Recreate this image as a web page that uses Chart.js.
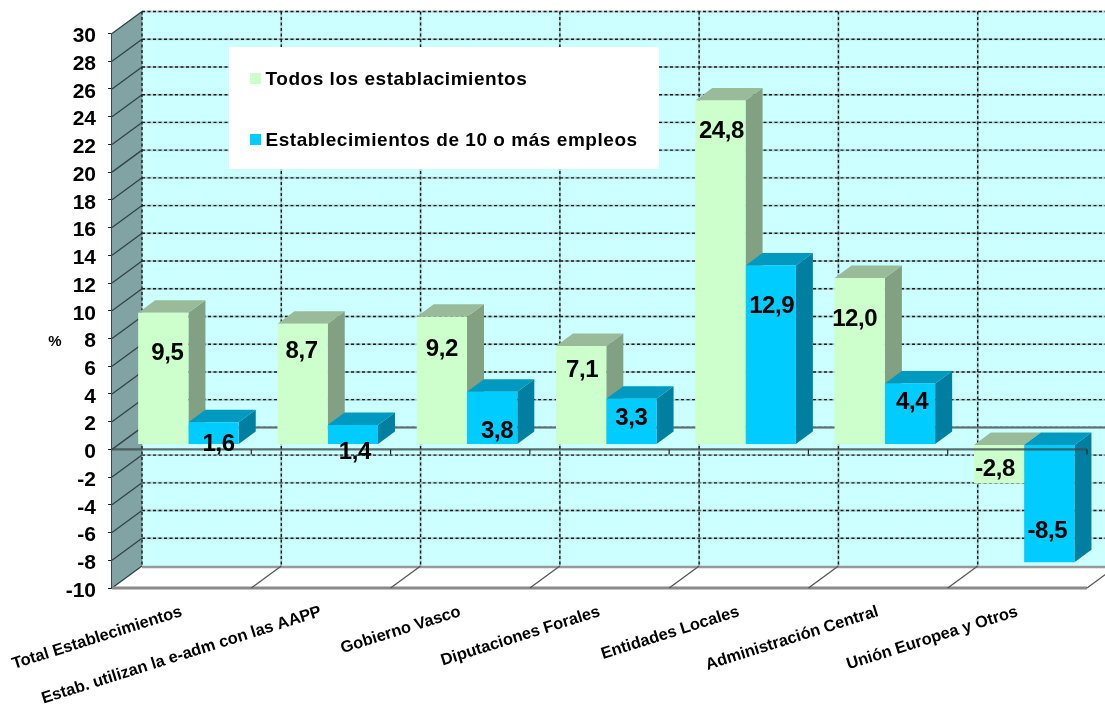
<!DOCTYPE html>
<html>
<head>
<meta charset="utf-8">
<script src="https://cdn.jsdelivr.net/npm/chart.js@4"></script>
<style>
  html, body { margin: 0; padding: 0; background: #fff; }
  canvas { display: block; }
</style>
</head>
<body>
<canvas id="chart" width="1105" height="708"></canvas>
<script>
const categories = [
  "Total Establecimientos",
  "Estab. utilizan la e-adm con las AAPP",
  "Gobierno Vasco",
  "Diputaciones Forales",
  "Entidades Locales",
  "Administración Central",
  "Unión Europea y Otros"
];
const seriesNames = ["Todos los establacimientos", "Establecimientos de 10 o más empleos"];
const todos = [9.5, 8.7, 9.2, 7.1, 24.8, 12.0, -2.8];
const diezOMas = [1.6, 1.4, 3.8, 3.3, 12.9, 4.4, -8.5];
const yMin = -10;
const yMax = 30;
const yStep = 2;

const FONT = '"Liberation Sans", Arial, sans-serif';
const DEPTH = { x: 30, y: 22 };       // front plane to back wall
const BAR_SHIFT = { x: 6.8, y: 5 };   // bars stand a bit inside the floor
const BAR_DEPTH = { x: 17, y: 12.5 };
const SKINS = [
  { front: "#CCFFCC", top: "#99BB99", side: "#82A082" },
  { front: "#00CCFF", top: "#0099BF", side: "#007FA0" }
];
// hand placed value labels, relative to the bar centre / value end
const LABEL_NUDGE = [
  [[4, 40.5], [-1, 27.5], [0, 32.5], [1, 24.5], [1, 30.5], [-5, 41.5], [-4, -13.5]],
  [[5, 22.5], [2, 27.5], [5, 39.5], [0, 19.5], [1, 40.5], [2, 18.5], [-2, -30.5]]
];

function poly(ctx, pts, fill) {
  ctx.beginPath();
  pts.forEach((p, i) => i ? ctx.lineTo(p[0], p[1]) : ctx.moveTo(p[0], p[1]));
  ctx.closePath();
  ctx.fillStyle = fill;
  ctx.fill();
}

function line(ctx, x1, y1, x2, y2, color, width, dash) {
  ctx.beginPath();
  ctx.setLineDash(dash || []);
  ctx.moveTo(x1, y1);
  ctx.lineTo(x2, y2);
  ctx.strokeStyle = color;
  ctx.lineWidth = width;
  ctx.stroke();
  ctx.setLineDash([]);
}

function dashed(ctx, x1, y1, x2, y2) {
  line(ctx, x1, y1, x2, y2, "rgba(110,130,130,0.35)", 2);
  line(ctx, x1, y1, x2, y2, "#1c1c1c", 1.4, [3, 2.5]);
}

// walls, floor and grid sit under the bars
const walls = {
  id: "walls",
  beforeDatasetsDraw(chart) {
    const { ctx, chartArea: a, scales } = chart;
    const W = chart.width;
    const y = scales.y;
    const backL = a.left + DEPTH.x;
    const backT = a.top - DEPTH.y;
    const backB = a.bottom - DEPTH.y;
    const catW = (a.right - a.left) / categories.length;

    ctx.save();
    poly(ctx, [[backL, backT], [W, backT], [W, backB], [backL, backB]], "#CCFFFF");
    poly(ctx, [[a.left, a.top], [backL, backT], [backL, backB], [a.left, a.bottom]], "#82A3A3");

    y.ticks.forEach(t => {
      const py = y.getPixelForValue(t.value);
      if (t.value !== yMin) dashed(ctx, backL, py - DEPTH.y, W, py - DEPTH.y);
      line(ctx, a.left, py, backL, py - DEPTH.y, "#2f4444", 1.3);
    });
    for (let i = 0; i <= categories.length; i++) {
      const px = a.left + i * catW;
      if (px + DEPTH.x < W) dashed(ctx, px + DEPTH.x, backT, px + DEPTH.x, backB);
    }

    // back zero line
    const zero = y.getPixelForValue(0);
    line(ctx, backL, zero - DEPTH.y, W, zero - DEPTH.y, "#5f6f6f", 2);

    // floor
    line(ctx, backL, backB + 1, W, backB + 1, "#999", 2.5);
    line(ctx, a.left, a.bottom, a.right, a.bottom, "#8a8a8a", 3);
    for (let i = 1; i <= categories.length; i++) {
      const px = a.left + i * catW;
      line(ctx, px, a.bottom, px + DEPTH.x, backB, "#555", 1.3);
    }
    ctx.restore();

    // bar tops and sides, the fronts come from the library after this
    [0, 1].forEach(d => {
      const skin = SKINS[d];
      chart.getDatasetMeta(d).data.forEach(el => {
        const l = el.x - el.width / 2 + BAR_SHIFT.x;
        const r = el.x + el.width / 2 + BAR_SHIFT.x;
        const top = Math.min(el.y, el.base) - BAR_SHIFT.y;
        const bot = Math.max(el.y, el.base) - BAR_SHIFT.y;
        poly(ctx, [[r, top], [r + BAR_DEPTH.x, top - BAR_DEPTH.y], [r + BAR_DEPTH.x, bot - BAR_DEPTH.y], [r, bot]], skin.side);
        poly(ctx, [[l, top], [l + BAR_DEPTH.x, top - BAR_DEPTH.y], [r + BAR_DEPTH.x, top - BAR_DEPTH.y], [r, top]], skin.top);
      });
    });

    ctx.save();
    ctx.translate(BAR_SHIFT.x, -BAR_SHIFT.y);
  },
  afterDatasetsDraw(chart) {
    const { ctx, chartArea: a, scales } = chart;
    ctx.restore();

    // front zero line runs over the bars
    const zero = scales.y.getPixelForValue(0);
    const catW = (a.right - a.left) / categories.length;
    ctx.save();
    line(ctx, a.left, zero, a.right, zero, "rgba(60,75,75,0.8)", 2.4);
    for (let i = 1; i <= categories.length; i++) {
      const px = a.left + i * catW;
      line(ctx, px, zero, px, zero + 5, "#222", 1.2);
    }

    // value labels
    ctx.fillStyle = "#000";
    ctx.textAlign = "center";
    ctx.textBaseline = "middle";
    ctx.font = "bold 24px " + FONT;
    ctx.letterSpacing = "-0.4px";
    [0, 1].forEach(d => {
      chart.getDatasetMeta(d).data.forEach((el, i) => {
        const v = chart.data.datasets[d].data[i];
        const n = LABEL_NUDGE[d][i];
        ctx.fillText(v.toFixed(1).replace(".", ","), el.x + BAR_SHIFT.x + n[0], el.y - BAR_SHIFT.y + n[1]);
      });
    });

    // legend box
    ctx.fillStyle = "#fff";
    ctx.fillRect(229, 47, 430, 122);
    ctx.textAlign = "left";
    ctx.font = "bold 19px " + FONT;
    ctx.letterSpacing = "0.54px";
    [[73, 79.5], [134, 140.5]].forEach((row, d) => {
      ctx.fillStyle = SKINS[d].front;
      ctx.fillRect(250, row[0], 11, 11);
      ctx.fillStyle = "#000";
      ctx.fillText(seriesNames[d], 265.5, row[1]);
    });
    ctx.letterSpacing = "0px";

    // unit
    ctx.font = "bold 15px " + FONT;
    ctx.textAlign = "center";
    ctx.fillText("%", 55, 342);
    ctx.restore();
  }
};

new Chart(document.getElementById("chart"), {
  type: "bar",
  data: {
    labels: categories,
    datasets: [
      { label: seriesNames[0], data: todos, backgroundColor: SKINS[0].front },
      { label: seriesNames[1], data: diezOMas, backgroundColor: SKINS[1].front }
    ]
  },
  options: {
    responsive: false,
    animation: false,
    events: [],
    categoryPercentage: 0.722,
    barPercentage: 1,
    layout: { autoPadding: false, padding: { top: 33.5, right: 18, left: 0, bottom: 0 } },
    plugins: { legend: { display: false }, tooltip: { enabled: false } },
    scales: {
      x: {
        afterFit(s) { s.height = 120; s.paddingLeft = 0; s.paddingRight = 0; },
        grid: { display: false },
        border: { display: false },
        ticks: {
          autoSkip: false,
          minRotation: 17.5,
          maxRotation: 17.5,
          padding: 6,
          color: "#000",
          font: { family: FONT, weight: "bold", size: 16.4 }
        }
      },
      y: {
        min: yMin,
        max: yMax,
        afterFit(s) { s.width = 112; },
        grid: { drawOnChartArea: false, tickLength: 4, color: "#222" },
        border: { display: true, color: "#3a4a4a", width: 1.5 },
        ticks: {
          autoSkip: false,
          stepSize: yStep,
          padding: 12,
          labelOffset: 3,
          color: "#000",
          font: { family: FONT, weight: "bold", size: 21 }
        }
      }
    }
  },
  plugins: [walls]
});
</script>
</body>
</html>
